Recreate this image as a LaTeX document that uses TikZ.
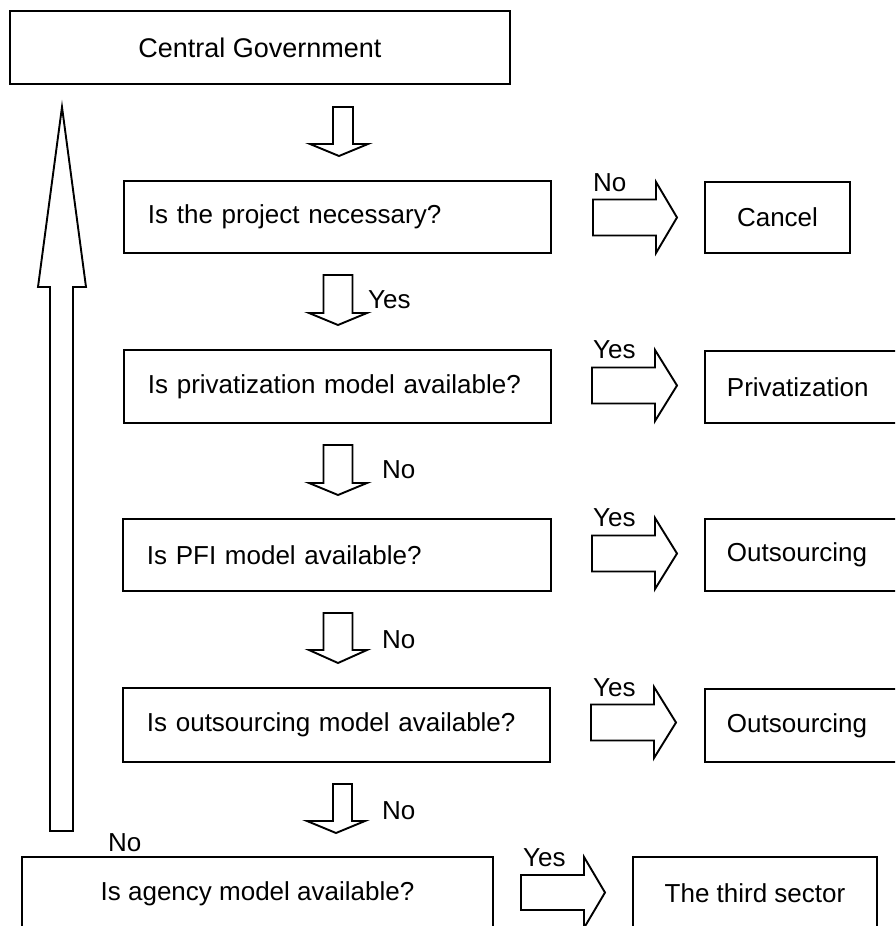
\documentclass[tikz,border=0pt]{standalone}
\usepackage{fontspec}
\setmainfont{Liberation Sans}
\usetikzlibrary{calc}
\newcommand{\blkdown}[7]{%
  \draw[blk] ({#1+#3-#4},#2) -- ({#1+#3-#4},{#2+#6}) -- ({#1-#5},{#2+#6}) -- (#1,{#2+#6+#7})
    -- ({#1+#5},{#2+#6}) -- ({#1+#3+#4},{#2+#6}) -- ({#1+#3+#4},#2) -- cycle;}
\newcommand{\blkright}[6]{%
  \draw[blk] (#1,{#2-#3}) -- (#5,{#2-#3}) -- (#5,{#2-#4}) -- (#6,#2) -- (#5,{#2+#4})
    -- (#5,{#2+#3}) -- (#1,{#2+#3}) -- cycle;}
\begin{document}
\begin{tikzpicture}[x=1pt,y=-1pt,
  box/.style={draw, line width=1.9pt, inner sep=0pt, font=\fontsize{26}{31}\selectfont},
  qbox/.style={box, anchor=north west, minimum width=427pt, inner xsep=24pt,
     text width=379pt, align=left},
  cutbox/.style={box, anchor=north west, minimum width=222pt, minimum height=72pt,
     inner xsep=22pt, text width=178pt, align=left},
  blk/.style={draw, line width=1.9pt, line join=miter},
  lbl/.style={inner sep=0pt, anchor=west, font=\fontsize{26}{31}\selectfont}]
\useasboundingbox (0,0) rectangle (895,926);
\clip (0,0) rectangle (895,926);
% main boxes
\node[box, minimum width=500pt, minimum height=73pt, font=\fontsize{27}{32}\selectfont] (cg) at (260,47.5) {Central Government};
\node[qbox, minimum height=72pt] (q1) at (123,180) {Is the project necessary?};
\node[qbox, minimum height=73pt] (q2) at (123,349) {Is privatization model available?};
\node[qbox, minimum height=72pt, minimum width=428pt, text width=380pt] (q3) at (122,518) {Is PFI model available?};
\node[qbox, minimum height=74pt] (q4) at (122,687) {Is outsourcing model available?};
\node[box, minimum width=471pt, minimum height=73pt] (q5) at (257.5,893.5) {Is agency model available?};
% result boxes
\node[box, minimum width=145pt, minimum height=71pt] (r1) at (777.5,217.5) {Cancel};
\node[cutbox] (r2) at (704,350) {Privatization};
\node[cutbox] (r3) at (704,518) {Outsourcing};
\node[cutbox, minimum height=73pt] (r4) at (704,688) {Outsourcing};
\node[box, minimum width=244pt, minimum height=73pt] (r5) at (755,893.5) {The third sector};
% down block arrows
\blkdown{339}{107}{4}{10}{29}{37}{12}
\blkdown{338}{275}{0}{14.5}{29}{38}{12}
\blkdown{338}{445}{0}{14.5}{29}{38}{12}
\blkdown{338}{613}{0}{14.5}{29}{37}{13}
\blkdown{336}{784}{6.5}{9.5}{29}{37}{12}
% right block arrows
\blkright{593}{217.5}{18}{35.5}{656}{677}
\blkright{592}{385.5}{18}{35.5}{655}{677}
\blkright{592}{553.5}{18}{35.5}{655}{677}
\blkright{591}{722.5}{18}{35.5}{654}{676}
\blkright{521}{892.5}{17.5}{35.5}{584}{605}
% big return arrow
\draw[blk] (50,831) -- (50,287) -- (38,287) -- (62,107) -- (86,287) -- (73,287) -- (73,831) -- cycle;
% labels
\node[lbl] (l1) at (593,183) {No};
\node[lbl] (l2) at (593,350) {Yes};
\node[lbl] (l3) at (593,518) {Yes};
\node[lbl] (l4) at (593,688) {Yes};
\node[lbl] (l5) at (523,858) {Yes};
\node[lbl] (d2) at (368,300) {Yes};
\node[lbl] (d3) at (382,470) {No};
\node[lbl] (d4) at (382,640) {No};
\node[lbl] (d5) at (382,811) {No};
\node[lbl] (bn) at (108,843) {No};
\end{tikzpicture}
\end{document}
